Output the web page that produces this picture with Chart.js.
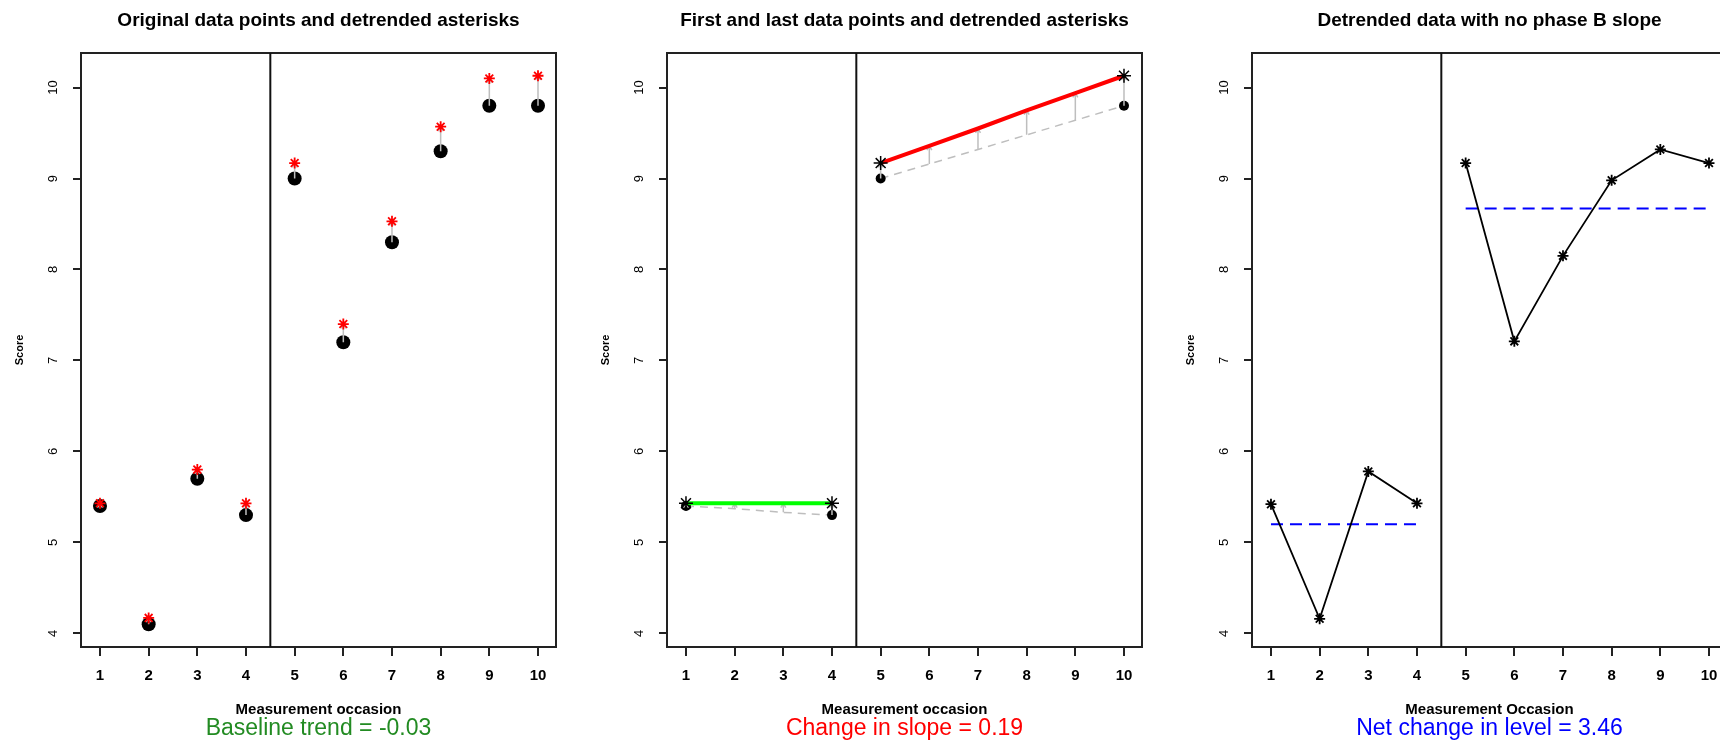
<!DOCTYPE html>
<html>
<head>
<meta charset="utf-8">
<title>Detrending panels</title>
<script src="https://cdn.jsdelivr.net/npm/chart.js@4.4.1/dist/chart.umd.min.js"></script>
<style>
    html, body { margin: 0; padding: 0; background: #ffffff; overflow: hidden; }
    #wrap { position: relative; width: 1720px; height: 741px; overflow: hidden; }
    #wrap canvas { position: absolute; top: 0; }
</style>
</head>
<body>
<div id="wrap">
    <canvas id="panel1" width="586" height="741" style="left:0px"></canvas>
    <canvas id="panel2" width="586" height="741" style="left:586px"></canvas>
    <canvas id="panel3" width="586" height="741" style="left:1171px"></canvas>
</div>
<script>
// ===== DATA =====

const occasions = [1, 2, 3, 4, 5, 6, 7, 8, 9, 10];
const scoreTicks = [4, 5, 6, 7, 8, 9, 10];
const phaseBoundary = 4.5;

const originalScores = [5.4, 4.1, 5.7, 5.3, 9.0, 7.2, 8.3, 9.3, 9.8, 9.8];
const detrendedScores = [5.43, 4.17, 5.80, 5.43, 9.17, 7.40, 8.53, 9.57, 10.10, 10.13];

// panel 2: grey link between first/last circles, and the detrended link
const firstLastIndex = [0, 3, 4, 9];
const linkOriginal = [5.40, 5.37, 5.33, 5.30, 9.00, 9.16, 9.32, 9.48, 9.64, 9.80];
const linkDetrended = [5.43, 5.43, 5.43, 5.43, 9.17, 9.36, 9.55, 9.75, 9.94, 10.13];

// panel 3
const noSlopeScores = [5.42, 4.16, 5.78, 5.43, 9.17, 7.21, 8.15, 8.98, 9.32, 9.17];
const phaseMeans = [5.20, 8.67];

const panelTitles = [
    "Original data points and detrended asterisks",
    "First and last data points and detrended asterisks",
    "Detrended data with no phase B slope"
];
const xTitles = ["Measurement occasion", "Measurement occasion", "Measurement Occasion"];
const notes = ["Baseline trend = -0.03", "Change in slope = 0.19", "Net change in level = 3.46"];

// ===== HELPERS =====

const FONT = "'Liberation Sans', Arial, sans-serif";
const INK = "#222222";

Chart.defaults.font.family = FONT;
Chart.defaults.color = "#000000";

const allIdx = occasions.map((o, i) => i);
const idxA = allIdx.filter(i => occasions[i] < phaseBoundary);
const idxB = allIdx.filter(i => occasions[i] > phaseBoundary);

function pts(idx, values) {
    return idx.map(i => ({ x: occasions[i], y: values[i] }));
}

// title + coloured note, centred on the plot box
const panelText = {
    id: "panelText",
    afterDraw(chart, args, opts) {
        const { ctx, chartArea } = chart;
        const cx = (chartArea.left + chartArea.right) / 2;
        ctx.save();
        ctx.textAlign = "center";
        ctx.textBaseline = "alphabetic";
        ctx.fillStyle = "#000000";
        ctx.font = "bold 19px " + FONT;
        ctx.fillText(opts.title, cx, 26);
        ctx.fillStyle = opts.noteColor;
        ctx.font = "23px " + FONT;
        ctx.fillText(opts.note, cx, 735);
        ctx.restore();
    }
};

// vertical line between phase A and phase B
const phaseLine = {
    id: "phaseLine",
    beforeDatasetsDraw(chart) {
        const { ctx, chartArea, scales } = chart;
        const px = scales.x.getPixelForValue(phaseBoundary);
        ctx.save();
        ctx.strokeStyle = "#111111";
        ctx.lineWidth = 2;
        ctx.beginPath();
        ctx.moveTo(px, chartArea.top);
        ctx.lineTo(px, chartArea.bottom);
        ctx.stroke();
        ctx.restore();
    }
};

// grey arrows, drawn right after the dataset that carries them
const arrowPlugin = {
    id: "arrows",
    afterDatasetDraw(chart, args) {
        const ds = chart.data.datasets[args.index];
        if (!ds.arrows) return;
        const { ctx, scales } = chart;
        const head = 5;
        ctx.save();
        ctx.strokeStyle = "#BEBEBE";
        ctx.lineWidth = 1.5;
        ds.arrows.x.forEach((xv, i) => {
            const px = scales.x.getPixelForValue(xv);
            const y0 = scales.y.getPixelForValue(ds.arrows.from[i]);
            const y1 = scales.y.getPixelForValue(ds.arrows.to[i]);
            const dir = y1 < y0 ? -1 : 1;
            ctx.beginPath();
            ctx.moveTo(px, y0);
            ctx.lineTo(px, y1);
            ctx.moveTo(px - head * 0.5, y1 - dir * head * 0.87);
            ctx.lineTo(px, y1);
            ctx.lineTo(px + head * 0.5, y1 - dir * head * 0.87);
            ctx.stroke();
        });
        ctx.restore();
    }
};

function makeScales(xTitle) {

    const grid = (len) => ({
        display: true,
        drawOnChartArea: false,
        drawTicks: true,
        tickLength: len,
        color: INK,
        lineWidth: 2
    });

    const border = { display: true, color: INK, width: 2 };

    return {
        x: {
            type: "linear",
            min: 0.61,
            max: 10.37,
            afterBuildTicks: s => { s.ticks = occasions.map(v => ({ value: v })); },
            afterFit: s => { s.height = 94; },
            grid: grid(9),
            border: border,
            ticks: {
                autoSkip: false,
                maxRotation: 0,
                padding: 11,
                font: { size: 15, weight: "bold" }
            },
            title: {
                display: true,
                text: xTitle,
                font: { size: 15, weight: "bold" },
                padding: { top: 0, bottom: 22 }
            }
        },
        y: {
            type: "linear",
            min: 3.85,
            max: 10.38,
            afterBuildTicks: s => { s.ticks = scoreTicks.map(v => ({ value: v })); },
            afterFit: s => { s.width = 81; },
            grid: grid(8),
            border: border,
            ticks: {
                crossAlign: "center",
                minRotation: 90,
                maxRotation: 90,
                padding: 12,
                font: { size: 13 }
            },
            title: {
                display: true,
                text: "Score",
                font: { size: 11, weight: "bold" },
                padding: { top: 13, bottom: 0 }
            }
        },
        xTop: {
            type: "linear",
            position: "top",
            afterFit: s => { s.height = 53; },
            grid: { display: false },
            ticks: { display: false },
            border: border
        },
        yRight: {
            type: "linear",
            position: "right",
            afterFit: s => { s.width = 30; },
            grid: { display: false },
            ticks: { display: false },
            border: border
        }
    };
}

function makePanel(id, n, noteColor, datasets) {
    return new Chart(document.getElementById(id), {
        type: "scatter",
        data: { datasets: datasets },
        options: {
            responsive: false,
            maintainAspectRatio: false,
            devicePixelRatio: 1,
            animation: false,
            events: [],
            layout: { padding: 0 },
            scales: makeScales(xTitles[n]),
            plugins: {
                legend: { display: false },
                tooltip: { enabled: false },
                title: { display: false },
                panelText: { title: panelTitles[n], note: notes[n], noteColor: noteColor }
            }
        },
        plugins: [phaseLine, arrowPlugin, panelText]
    });
}

// ===== PANEL 1 =====

makePanel("panel1", 0, "#228B22", [
    {
        label: "Detrended",
        data: pts(allIdx, detrendedScores),
        pointStyle: "star",
        pointRadius: 5.5,
        borderWidth: 1.8,
        borderColor: "#FF0000",
        backgroundColor: "#FF0000"
    },
    {
        label: "Original",
        data: pts(allIdx, originalScores),
        pointStyle: "circle",
        pointRadius: 7,
        borderWidth: 0,
        backgroundColor: "#000000",
        arrows: { x: occasions, from: originalScores, to: detrendedScores }
    }
]);

// ===== PANEL 2 =====

makePanel("panel2", 1, "#FF0000", [
    {
        label: "Detrended ends",
        data: pts(firstLastIndex, linkDetrended),
        pointStyle: "star",
        pointRadius: 7,
        borderWidth: 1.5,
        borderColor: "#000000"
    },
    {
        label: "Phase B link",
        data: pts(idxB, linkDetrended),
        showLine: true,
        pointRadius: 0,
        borderWidth: 4,
        borderColor: "#FF0000"
    },
    {
        label: "Phase A link",
        data: pts(idxA, linkDetrended),
        showLine: true,
        pointRadius: 0,
        borderWidth: 4,
        borderColor: "#00FF00"
    },
    {
        label: "Original ends",
        data: pts(firstLastIndex, originalScores),
        pointStyle: "circle",
        pointRadius: 5,
        borderWidth: 0,
        backgroundColor: "#000000",
        arrows: { x: occasions, from: linkOriginal, to: linkDetrended }
    },
    {
        label: "Phase A original link",
        data: pts(idxA, linkOriginal),
        showLine: true,
        pointRadius: 0,
        borderWidth: 1.5,
        borderDash: [8, 6],
        borderColor: "#BEBEBE"
    },
    {
        label: "Phase B original link",
        data: pts(idxB, linkOriginal),
        showLine: true,
        pointRadius: 0,
        borderWidth: 1.5,
        borderDash: [8, 6],
        borderColor: "#BEBEBE"
    }
]);

// ===== PANEL 3 =====

const starLine = (idx) => ({
    data: pts(idx, noSlopeScores),
    showLine: true,
    borderWidth: 1.8,
    borderColor: "#000000",
    pointStyle: "star",
    pointRadius: 5.5,
    pointBorderWidth: 1.8,
    pointBorderColor: "#000000"
});

const meanLine = (idx, mean) => ({
    data: idx.map(i => ({ x: occasions[i], y: mean })),
    showLine: true,
    pointRadius: 0,
    borderWidth: 2,
    borderDash: [12, 7],
    borderColor: "#0000FF"
});

makePanel("panel3", 2, "#0000FF", [
    starLine(idxA),
    starLine(idxB),
    meanLine(idxA, phaseMeans[0]),
    meanLine(idxB, phaseMeans[1])
]);
</script>
</body>
</html>
